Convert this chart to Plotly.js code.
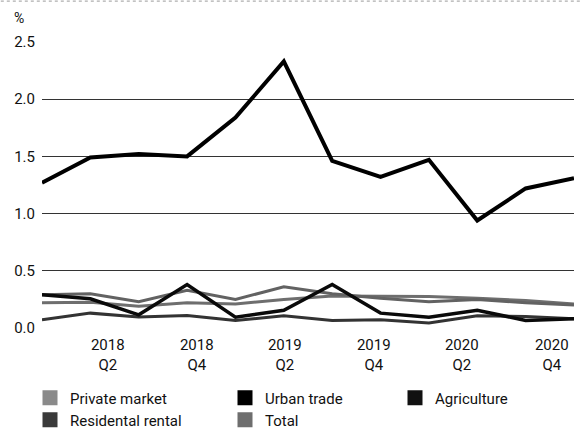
<!DOCTYPE html>
<html>
<head>
<meta charset="utf-8">
<script src="https://cdn.plot.ly/plotly-3.0.1.min.js"></script>
<style>
  html, body { margin: 0; padding: 0; background: #ffffff; }
  #chart { width: 582px; height: 430px; }
</style>
</head>
<body>
<div id="chart"></div>
<script>
// Quarterly observations, plotted by position along the x axis
const points = [0, 1, 2, 3, 4, 5, 6, 7, 8, 9, 10, 11];

// Series values, %
const urbanTrade       = [1.27, 1.49, 1.52, 1.50, 1.84, 2.33, 1.46, 1.32, 1.47, 0.94, 1.22, 1.31];
const agriculture      = [0.29, 0.255, 0.115, 0.38, 0.095, 0.155, 0.38, 0.13, 0.095, 0.155, 0.066, 0.08];
const privateMarket    = [0.29, 0.30, 0.23, 0.33, 0.25, 0.36, 0.30, 0.26, 0.23, 0.25, 0.22, 0.20];
const total            = [0.22, 0.225, 0.19, 0.22, 0.21, 0.25, 0.28, 0.28, 0.275, 0.26, 0.24, 0.21];
const residentalRental = [0.072, 0.13, 0.096, 0.11, 0.066, 0.107, 0.066, 0.072, 0.043, 0.107, 0.10, 0.08];

// Axis labels
const xTickPos   = [1.36, 3.2, 5.02, 6.86, 8.68, 10.54];
const xTickText  = ['2018<br>Q2', '2018<br>Q4', '2019<br>Q2', '2019<br>Q4', '2020<br>Q2', '2020<br>Q4'];
const yTickVals  = [0, 0.5, 1.0, 1.5, 2.0, 2.5];
const yTickText  = ['0.0', '0.5', '1.0', '1.5', '2.0', '2.5'];

const FONT = 'Roboto, "Noto Sans", sans-serif';
const INK = '#111111';

const series = [
  { name: 'Residental rental', y: residentalRental, color: '#333333', width: 3,   legend: 'legend4', sw: '#3a3a3a' },
  { name: 'Total',             y: total,            color: '#6e6e6e', width: 3,   legend: 'legend5', sw: '#6e6e6e' },
  { name: 'Private market',    y: privateMarket,    color: '#626262', width: 3,   legend: 'legend',  sw: '#8a8a8a' },
  { name: 'Agriculture',       y: agriculture,      color: '#0a0a0a', width: 3.5, legend: 'legend3', sw: '#111111' },
  { name: 'Urban trade',       y: urbanTrade,       color: '#000000', width: 4,   legend: 'legend2', sw: '#000000' }
];

const traces = [];
series.forEach(s => {
  traces.push({
    type: 'scatter', mode: 'lines', x: points, y: s.y,
    line: { color: s.color, width: s.width, shape: 'linear' },
    showlegend: false, hoverinfo: 'skip'
  });
});
// Square swatches for the key
series.forEach(s => {
  traces.push({
    type: 'scatter', mode: 'markers', x: [null], y: [null], name: s.name,
    marker: { symbol: 'square', size: 15, color: s.sw, line: { width: 0 } },
    legend: s.legend, showlegend: true
  });
});

function key(xPx, yPx) {
  return {
    xref: 'container', yref: 'container',
    x: xPx / 582, y: 1 - yPx / 430,
    xanchor: 'left', yanchor: 'middle',
    bgcolor: 'rgba(0,0,0,0)', borderwidth: 0,
    font: { family: FONT, size: 15, color: INK }
  };
}

const layout = {
  width: 582, height: 430,
  margin: { l: 42, r: 8, t: 42, b: 102, autoexpand: false },
  paper_bgcolor: '#ffffff', plot_bgcolor: '#ffffff',
  font: { family: FONT, size: 15, color: INK },
  xaxis: {
    range: [0, 11], tickmode: 'array', tickvals: xTickPos, ticktext: xTickText,
    showgrid: false, zeroline: false, showline: false, ticks: '', tickangle: 0,
    automargin: false, ticklabelstandoff: 6,
    tickfont: { family: FONT, size: 15, color: INK }
  },
  yaxis: {
    range: [0, 2.5], tickmode: 'array', tickvals: yTickVals, ticktext: yTickText,
    showgrid: true, gridcolor: '#333333', gridwidth: 1.2, automargin: false,
    zeroline: false, showline: false, ticks: '', ticklabelstandoff: 6,
    tickfont: { family: FONT, size: 15, color: INK }
  },
  annotations: [{
    xref: 'paper', yref: 'paper', x: 0, y: 1, xshift: -30, yshift: 24,
    xanchor: 'left', yanchor: 'middle', showarrow: false,
    text: '%', font: { family: FONT, size: 14, color: INK }
  }],
  shapes: [{
    type: 'line', xref: 'paper', yref: 'paper', x0: -0.1, x1: 1.1,
    y0: 1.143, y1: 1.143, line: { color: '#999999', width: 1, dash: 'dot' }
  }],
  legend:  key(30, 398),
  legend2: key(225, 398),
  legend3: key(395, 398),
  legend4: key(30, 420),
  legend5: key(225, 420),
  showlegend: true,
  hovermode: false
};

Plotly.newPlot('chart', traces, layout, { staticPlot: true, displayModeBar: false });
</script>
</body>
</html>
